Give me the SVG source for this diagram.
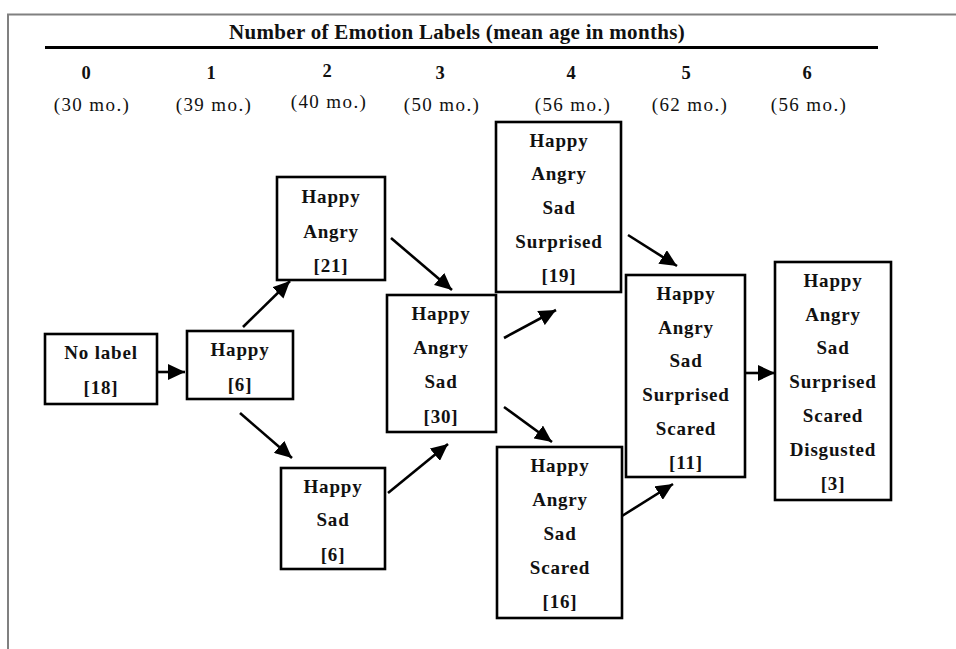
<svg xmlns="http://www.w3.org/2000/svg" width="956" height="649" viewBox="0 0 956 649">
<style>
.frame{stroke:#808080;stroke-width:2;fill:none}
.box{fill:#fff;stroke:#000;stroke-width:2.6}
.bt{font-family:"Liberation Serif","Times New Roman",serif;font-weight:bold;font-size:19px;letter-spacing:0.8px;text-anchor:middle;fill:#111}
.hd{font-family:"Liberation Serif","Times New Roman",serif;font-weight:bold;font-size:18.5px;text-anchor:middle;fill:#111}
.age{font-family:"Liberation Serif","Times New Roman",serif;font-size:19px;letter-spacing:1.4px;text-anchor:middle;fill:#111}
.title{font-family:"Liberation Serif","Times New Roman",serif;font-weight:bold;font-size:21px;letter-spacing:0.3px;text-anchor:middle;fill:#111}
.arr{stroke:#000;stroke-width:2.6;fill:none;marker-end:url(#ah)}
</style>
<defs>
<marker id="ah" markerUnits="userSpaceOnUse" markerWidth="18" markerHeight="16" refX="17" refY="8" orient="auto">
<path d="M0,0 L17,8 L0,16 z" fill="#000"/>
</marker>
</defs>
<rect width="956" height="649" fill="#fff"/>
<path class="frame" d="M8,649 V14.5 H956"/>

<g id="header">
<text class="title" x="457" y="39">Number of Emotion Labels (mean age in months)</text>
<line x1="45" y1="47.5" x2="878" y2="47.5" stroke="#000" stroke-width="3"/>
<text class="hd" x="86" y="79">0</text>
<text class="hd" x="211" y="79">1</text>
<text class="hd" x="327" y="77">2</text>
<text class="hd" x="440" y="79">3</text>
<text class="hd" x="571" y="79">4</text>
<text class="hd" x="686" y="79">5</text>
<text class="hd" x="807" y="79">6</text>
<text class="age" x="92" y="111">(30 mo.)</text>
<text class="age" x="214" y="111">(39 mo.)</text>
<text class="age" x="329" y="108">(40 mo.)</text>
<text class="age" x="442" y="111">(50 mo.)</text>
<text class="age" x="573" y="111">(56 mo.)</text>
<text class="age" x="690" y="111">(62 mo.)</text>
<text class="age" x="809" y="111">(56 mo.)</text>
</g>

<g id="connectors">
<line class="arr" x1="157" y1="372" x2="185" y2="372"/>
<line class="arr" x1="243" y1="327" x2="290" y2="281"/>
<line class="arr" x1="240" y1="413" x2="292" y2="458"/>
<line class="arr" x1="391" y1="238" x2="452" y2="290"/>
<line class="arr" x1="388" y1="493" x2="448" y2="444"/>
<line class="arr" x1="504" y1="338" x2="556" y2="310"/>
<line class="arr" x1="504" y1="407" x2="552" y2="442"/>
<line class="arr" x1="628" y1="235" x2="677" y2="266"/>
<line class="arr" x1="622" y1="516" x2="673" y2="484"/>
<line class="arr" x1="746" y1="373" x2="775" y2="373"/>
</g>

<g id="n0">
<rect class="box" x="45" y="334" width="112" height="70"/>
<text class="bt" x="101" y="359">No label</text>
<text class="bt" x="101" y="394">[18]</text>
</g>

<g id="n1">
<rect class="box" x="187" y="331" width="106" height="68"/>
<text class="bt" x="240" y="356">Happy</text>
<text class="bt" x="240" y="391">[6]</text>
</g>

<g id="n2a">
<rect class="box" x="277" y="177" width="108" height="103"/>
<text class="bt" x="331" y="203">Happy</text>
<text class="bt" x="331" y="238">Angry</text>
<text class="bt" x="331" y="272">[21]</text>
</g>

<g id="n2b">
<rect class="box" x="281" y="468" width="104" height="101"/>
<text class="bt" x="333" y="493">Happy</text>
<text class="bt" x="333" y="526">Sad</text>
<text class="bt" x="333" y="561">[6]</text>
</g>

<g id="n3">
<rect class="box" x="387" y="295" width="109" height="137"/>
<text class="bt" x="441" y="320">Happy</text>
<text class="bt" x="441" y="354">Angry</text>
<text class="bt" x="441" y="388">Sad</text>
<text class="bt" x="441" y="423">[30]</text>
</g>

<g id="n4a">
<rect class="box" x="496" y="122" width="125" height="170"/>
<text class="bt" x="559" y="147">Happy</text>
<text class="bt" x="559" y="180">Angry</text>
<text class="bt" x="559" y="214">Sad</text>
<text class="bt" x="559" y="248">Surprised</text>
<text class="bt" x="559" y="282">[19]</text>
</g>

<g id="n4b">
<rect class="box" x="497" y="447" width="125" height="171"/>
<text class="bt" x="560" y="472">Happy</text>
<text class="bt" x="560" y="506">Angry</text>
<text class="bt" x="560" y="540">Sad</text>
<text class="bt" x="560" y="574">Scared</text>
<text class="bt" x="560" y="608">[16]</text>
</g>

<g id="n5">
<rect class="box" x="626" y="275" width="119" height="202"/>
<text class="bt" x="686" y="300">Happy</text>
<text class="bt" x="686" y="334">Angry</text>
<text class="bt" x="686" y="367">Sad</text>
<text class="bt" x="686" y="401">Surprised</text>
<text class="bt" x="686" y="435">Scared</text>
<text class="bt" x="686" y="469">[11]</text>
</g>

<g id="n6">
<rect class="box" x="775" y="262" width="116" height="238"/>
<text class="bt" x="833" y="287">Happy</text>
<text class="bt" x="833" y="321">Angry</text>
<text class="bt" x="833" y="354">Sad</text>
<text class="bt" x="833" y="388">Surprised</text>
<text class="bt" x="833" y="422">Scared</text>
<text class="bt" x="833" y="456">Disgusted</text>
<text class="bt" x="833" y="490">[3]</text>
</g>
</svg>
